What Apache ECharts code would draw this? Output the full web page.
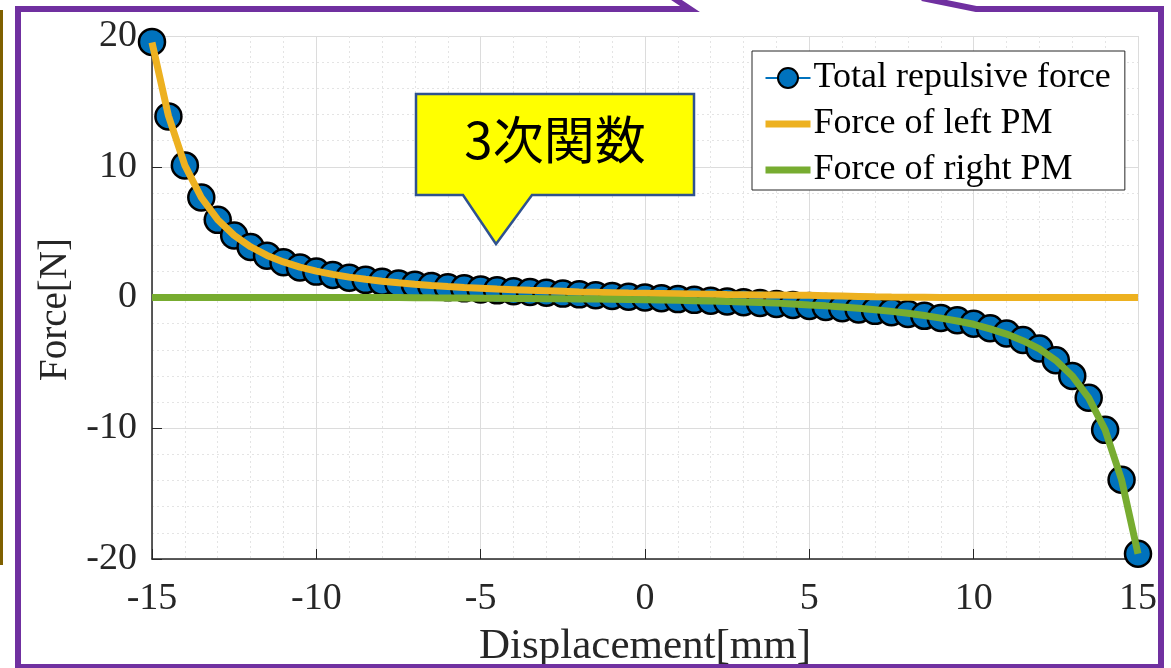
<!DOCTYPE html>
<html>
<head>
<meta charset="utf-8">
<script src="https://cdn.jsdelivr.net/npm/echarts@6/dist/echarts.min.js"></script>
<style>
html,body{margin:0;padding:0;background:#fff;}
#chart{width:1171px;height:668px;}
</style>
</head>
<body>
<div id="chart"></div>
<script>
const displacement = [-15,-14.5,-14,-13.5,-13,-12.5,-12,-11.5,-11,-10.5,-10,-9.5,-9,-8.5,-8,-7.5,-7,-6.5,-6,-5.5,-5,-4.5,-4,-3.5,-3,-2.5,-2,-1.5,-1,-0.5,0,0.5,1,1.5,2,2.5,3,3.5,4,4.5,5,5.5,6,6.5,7,7.5,8,8.5,9,9.5,10,10.5,11,11.5,12,12.5,13,13.5,14,14.5,15];
const totalForce = [19.55,13.85,10.1,7.65,5.94,4.74,3.86,3.2,2.7,2.3,1.98,1.72,1.52,1.35,1.2,1.08,0.97,0.87,0.78,0.7,0.62,0.55,0.48,0.42,0.36,0.3,0.24,0.18,0.12,0.06,0,-0.06,-0.12,-0.18,-0.24,-0.3,-0.36,-0.42,-0.5,-0.57,-0.65,-0.73,-0.82,-0.92,-1.02,-1.13,-1.26,-1.4,-1.56,-1.74,-2.0,-2.35,-2.75,-3.25,-3.9,-4.8,-6.0,-7.67,-10.12,-13.94,-19.6];
const leftForce = [19.5,13.9,10.1,7.65,5.95,4.75,3.88,3.22,2.72,2.33,2.02,1.77,1.56,1.39,1.25,1.12,1.01,0.92,0.84,0.77,0.71,0.65,0.6,0.55,0.51,0.47,0.43,0.4,0.37,0.34,0.32,0.3,0.28,0.26,0.24,0.22,0.21,0.2,0.19,0.18,0.17,0.14,0.11,0.08,0.05,0.03,0.02,0.01,0,0,0,0,0,0,0,0,0,0,0,0,0];
const rightForce = [0,0,0,0,0,0,0,0,0,0,0,0,0,0,0,0,-0.01,-0.02,-0.03,-0.04,-0.05,-0.06,-0.07,-0.08,-0.09,-0.1,-0.11,-0.12,-0.13,-0.15,-0.17,-0.19,-0.21,-0.24,-0.27,-0.3,-0.34,-0.38,-0.43,-0.49,-0.57,-0.64,-0.72,-0.82,-0.93,-1.06,-1.2,-1.38,-1.58,-1.8,-2.05,-2.4,-2.8,-3.3,-3.93,-4.8,-6.0,-7.67,-10.12,-13.94,-19.6];
const seriesNames = ['Total repulsive force','Force of left PM','Force of right PM'];
const xAxisName = 'Displacement[mm]';
const yAxisName = 'Force[N]';
const calloutText = '3次関数';

const pairs = (ys) => displacement.map((x, i) => [x, ys[i]]);
const serif = 'Liberation Serif, Times New Roman, serif';
const chart = echarts.init(document.getElementById('chart'), null, {renderer: 'canvas'});

const axisCommon = {
  axisLine: {show: true, onZero: false, lineStyle: {color: '#262626', width: 1.5}},
  axisTick: {show: true, inside: true, length: 10, lineStyle: {color: '#262626'}},
  splitLine: {show: true, lineStyle: {color: '#dcdcdc', width: 1}},
  minorSplitLine: {show: true, lineStyle: {color: '#e4e4e4', width: 1, type: [2, 3]}},
};

chart.setOption({
  animation: false,
  backgroundColor: '#ffffff',
  grid: {left: 152, top: 36, width: 986, height: 523, containLabel: false, outerBoundsMode: 'none'},
  xAxis: Object.assign({}, axisCommon, {
    type: 'value', min: -15, max: 15, interval: 5,
    name: xAxisName, nameLocation: 'middle', nameGap: 66,
    nameTextStyle: {fontFamily: serif, fontSize: 43, color: '#262626'},
    axisLabel: {fontFamily: serif, fontSize: 38, color: '#262626', margin: 21},
    minorTick: {show: false, splitNumber: 5}
  }),
  yAxis: Object.assign({}, axisCommon, {
    type: 'value', min: -20, max: 20, interval: 10,
    name: yAxisName, nameLocation: 'middle', nameGap: 65, nameRotate: 90,
    nameTextStyle: {fontFamily: serif, fontSize: 39, color: '#262626', padding: [0, 24, 0, 0]},
    axisLabel: {fontFamily: serif, fontSize: 38, color: '#262626', margin: 15},
    minorTick: {show: false, splitNumber: 5}
  }),
  legend: {
    orient: 'vertical', left: 752, top: 51,
    padding: [9, 14, 2, 10], itemGap: 10,
    itemWidth: 45, itemHeight: 25,
    borderColor: '#262626', borderWidth: 1, backgroundColor: '#ffffff',
    textStyle: {fontFamily: serif, fontSize: 36, color: '#000', lineHeight: 35, padding: [0,0,0,-2]},
    data: [
      {name: seriesNames[0], lineStyle: {width: 2}},
      {name: seriesNames[1], lineStyle: {width: 7}, itemStyle: {color: 'rgba(0,0,0,0)', borderWidth: 0, opacity: 0}},
      {name: seriesNames[2], lineStyle: {width: 7}, itemStyle: {color: 'rgba(0,0,0,0)', borderWidth: 0, opacity: 0}}
    ]
  },
  series: [
    {
      name: seriesNames[0], type: 'line', data: pairs(totalForce), z: 2,
      symbol: 'circle', symbolSize: 26, showSymbol: true,
      itemStyle: {color: '#0072BD', borderColor: '#000000', borderWidth: 2.5},
      lineStyle: {color: '#0072BD', width: 1.5}
    },
    {
      name: seriesNames[1], type: 'line', data: pairs(leftForce), z: 3,
      symbol: 'none', showSymbol: false,
      itemStyle: {color: '#EDB120'},
      lineStyle: {color: '#EDB120', width: 7}
    },
    {
      name: seriesNames[2], type: 'line', data: pairs(rightForce), z: 4,
      symbol: 'none', showSymbol: false,
      itemStyle: {color: '#77AC30'},
      lineStyle: {color: '#77AC30', width: 7}
    }
  ],
  graphic: [
    {
      type: 'polygon', z: 100,
      shape: {points: [[416,94],[694,94],[694,195],[532,195],[496,244],[463,195],[416,195]]},
      style: {fill: '#FFFF00', stroke: '#2F528F', lineWidth: 2.5}
    },
    {
      type: 'text', z: 101, x: 555, y: 140,
      style: {text: calloutText, fontFamily: 'Noto Sans CJK JP', fontSize: 51, fill: '#000', align: 'center', verticalAlign: 'middle'}
    },
    {
      type: 'polyline', z: 110,
      shape: {points: [[672,-3],[690,9],[18,9],[18,667],[1161,667],[1161,9],[976,9],[922,-2]]},
      style: {stroke: '#7030A0', lineWidth: 6, fill: null, lineJoin: 'miter'}
    },
    {
      type: 'line', z: 110,
      shape: {x1: 1.5, y1: 10, x2: 1.5, y2: 565},
      style: {stroke: '#7F6000', lineWidth: 3}
    }
  ]
});
</script>
</body>
</html>
